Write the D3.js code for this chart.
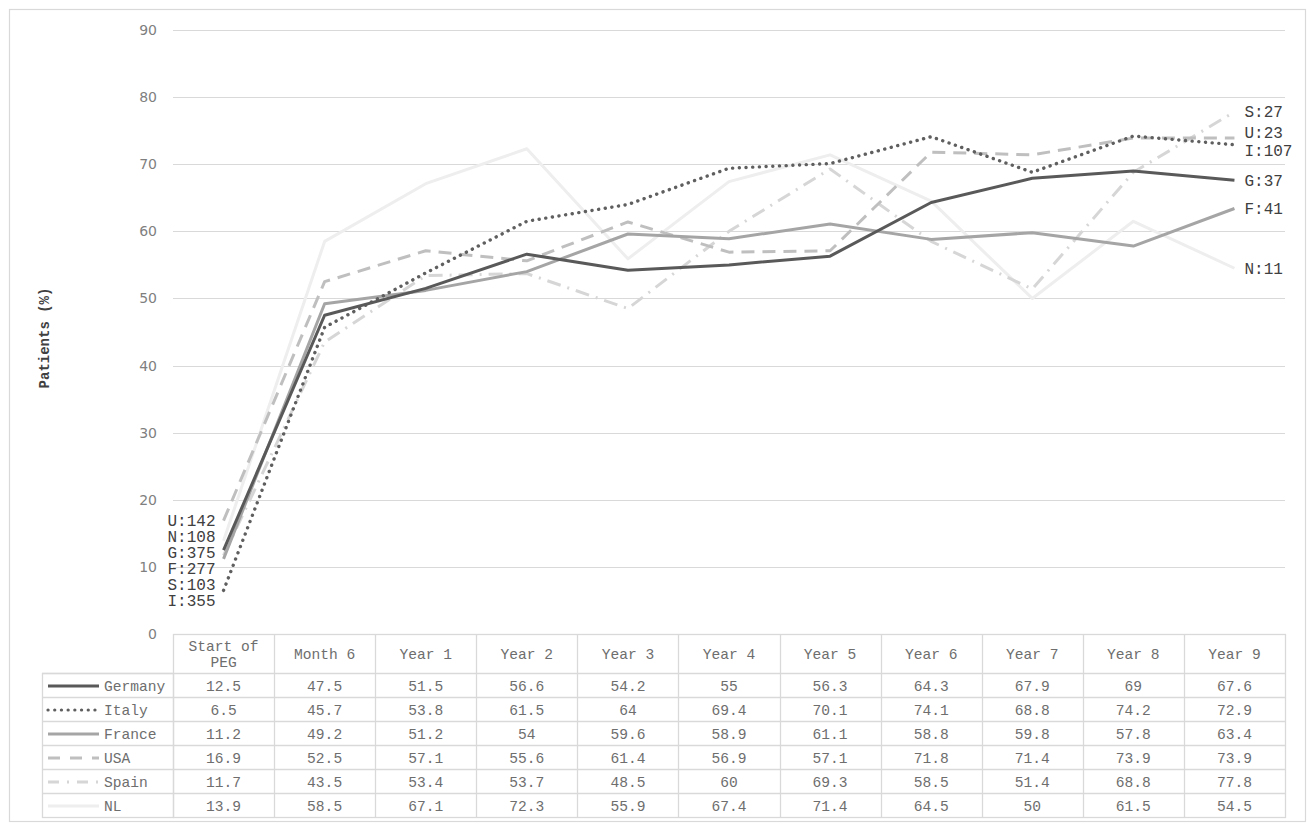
<!DOCTYPE html>
<html>
<head>
<meta charset="utf-8">
<script src="https://cdn.jsdelivr.net/npm/d3@7"></script>
<style>
  html, body { margin: 0; padding: 0; background: #ffffff; }
  svg { display: block; }
</style>
</head>
<body>
<svg id="chart" width="1307" height="824"></svg>
<script>
// Time points after start of PEG treatment
const categories = ["Start of PEG", "Month 6", "Year 1", "Year 2", "Year 3", "Year 4",
                    "Year 5", "Year 6", "Year 7", "Year 8", "Year 9"];

// Share of patients (%) per country
const germany = [12.5, 47.5, 51.5, 56.6, 54.2, 55, 56.3, 64.3, 67.9, 69, 67.6];
const italy   = [6.5, 45.7, 53.8, 61.5, 64, 69.4, 70.1, 74.1, 68.8, 74.2, 72.9];
const france  = [11.2, 49.2, 51.2, 54, 59.6, 58.9, 61.1, 58.8, 59.8, 57.8, 63.4];
const usa     = [16.9, 52.5, 57.1, 55.6, 61.4, 56.9, 57.1, 71.8, 71.4, 73.9, 73.9];
const spain   = [11.7, 43.5, 53.4, 53.7, 48.5, 60, 69.3, 58.5, 51.4, 68.8, 77.8];
const nl      = [13.9, 58.5, 67.1, 72.3, 55.9, 67.4, 71.4, 64.5, 50, 61.5, 54.5];

// Patient counts shown at the first and last time point
const seriesNames = ["Germany", "Italy", "France", "USA", "Spain", "NL"];
const seriesCodes = ["G", "I", "F", "U", "S", "N"];
const startCounts = [375, 355, 277, 142, 103, 108];
const endCounts   = [37, 107, 41, 23, 27, 11];
// Stacking order of the start labels, top to bottom
const startLabelOrder = ["USA", "NL", "Germany", "France", "Spain", "Italy"];

const yTicks = [0, 10, 20, 30, 40, 50, 60, 70, 80, 90];
const yTitle = "Patients (%)";

// Line styles per series
const styles = {
  Germany: { color: "#595959", dash: null, cap: "butt" },
  Italy:   { color: "#5f5f5f", dash: "0.1 6.6", cap: "round" },
  France:  { color: "#a5a5a5", dash: null, cap: "butt" },
  USA:     { color: "#bfbfbf", dash: "13 8", cap: "butt" },
  Spain:   { color: "#d6d6d6", dash: "14 7 2 7", cap: "butt" },
  NL:      { color: "#eeeeee", dash: null, cap: "butt" }
};

const seriesValues = [germany, italy, france, usa, spain, nl];
const series = seriesNames.map((name, i) => ({
  name, code: seriesCodes[i], values: seriesValues[i],
  start: startCounts[i], end: endCounts[i], style: styles[name]
}));

const svg = d3.select("#chart");
const mono = "'Liberation Mono', 'Courier New', monospace";
const gridColor = "#d9d9d9";

// Outer frame
svg.append("rect")
  .attr("x", 9.5).attr("y", 9.5).attr("width", 1296).attr("height", 812)
  .attr("fill", "#fff").attr("stroke", gridColor).attr("stroke-width", 1.2);

const plotLeft = 173, plotRight = 1285, plotTop = 30, plotBottom = 634;

const x = d3.scaleBand().domain(categories).range([plotLeft, plotRight]).paddingInner(0).paddingOuter(0);
const y = d3.scaleLinear().domain([0, 90]).range([plotBottom, plotTop]);
const cx = c => x(c) + x.bandwidth() / 2;

// Horizontal gridlines
svg.append("g").selectAll("line")
  .data(yTicks.filter(t => t > 0))
  .join("line")
  .attr("x1", plotLeft).attr("x2", plotRight)
  .attr("y1", d => Math.round(y(d)) + 0.5).attr("y2", d => Math.round(y(d)) + 0.5)
  .attr("stroke", gridColor).attr("stroke-width", 1);

// Y axis labels
const yAxis = d3.axisLeft(y).tickValues(yTicks).tickSize(0).tickPadding(16).tickFormat(d3.format("d"));
const gy = svg.append("g").attr("transform", `translate(${plotLeft},0)`).call(yAxis);
gy.select(".domain").remove();
gy.selectAll("text")
  .attr("fill", "#7f7f7f")
  .style("font-family", "'DejaVu Sans', sans-serif")
  .style("font-size", "14px");

// Y axis title
svg.append("text")
  .attr("transform", `translate(49, ${(plotTop + plotBottom) / 2 + 6}) rotate(-90)`)
  .attr("text-anchor", "middle")
  .attr("fill", "#404040")
  .style("font-family", mono)
  .style("font-size", "14px")
  .style("font-weight", "bold")
  .text(yTitle);

// Series lines
const line = d3.line().x((d, i) => cx(categories[i])).y(d => y(d));
const drawOrder = ["NL", "Spain", "USA", "France", "Italy", "Germany"];
svg.append("g").selectAll("path")
  .data(drawOrder.map(n => series.find(s => s.name === n)))
  .join("path")
  .attr("d", d => line(d.values))
  .attr("fill", "none")
  .attr("stroke", d => d.style.color)
  .attr("stroke-width", d => d.name === "Italy" ? 3.4 : 3)
  .attr("stroke-dasharray", d => d.style.dash)
  .attr("stroke-linecap", d => d.style.cap)
  .attr("stroke-linejoin", "round");

// Patient count labels at the first time point, stacked downward
const labelStyle = sel => sel
  .attr("fill", "#404040")
  .style("font-family", mono)
  .style("font-size", "16px");

const firstCat = categories[0];
const topStart = d3.max(series, s => s.values[0]);
svg.append("g").selectAll("text")
  .data(startLabelOrder.map(n => series.find(s => s.name === n)))
  .join("text")
  .attr("x", cx(firstCat) - 8)
  .attr("y", (d, i) => y(topStart) + i * 16)
  .attr("dy", "0.35em")
  .attr("text-anchor", "end")
  .call(labelStyle)
  .text(d => `${d.code}:${d.start}`);

// Patient count labels at the last time point, spread apart to avoid overlap
const lastCat = categories[categories.length - 1];
const endLabels = series.map(s => ({ s, pos: y(s.values[s.values.length - 1]) }))
  .sort((a, b) => a.pos - b.pos);
const minGap = 18;
for (let iter = 0; iter < 50; iter++) {
  for (let i = 1; i < endLabels.length; i++) {
    const gap = endLabels[i].pos - endLabels[i - 1].pos;
    if (gap < minGap) {
      const shift = (minGap - gap) / 2;
      endLabels[i - 1].pos -= shift;
      endLabels[i].pos += shift;
    }
  }
}
svg.append("g").selectAll("text")
  .data(endLabels)
  .join("text")
  .attr("x", cx(lastCat) + 10)
  .attr("y", d => d.pos)
  .attr("dy", "0.35em")
  .attr("text-anchor", "start")
  .call(labelStyle)
  .text(d => `${d.s.code}:${d.s.end}`);

// Data table beneath the plot
const headerTop = plotBottom, headerH = 39, rowH = 24;
const legendLeft = 42;
const tableBottom = headerTop + headerH + rowH * series.length;
const tbl = svg.append("g");
const cellText = "#6e6e6e";
const tableFont = "14.6px";

// Table outlines
tbl.append("rect")
  .attr("x", plotLeft + 0.5).attr("y", headerTop + 0.5)
  .attr("width", plotRight - plotLeft).attr("height", tableBottom - headerTop)
  .attr("fill", "none").attr("stroke", gridColor).attr("stroke-width", 1.3);
tbl.append("rect")
  .attr("x", legendLeft + 0.5).attr("y", headerTop + headerH + 0.5)
  .attr("width", plotLeft - legendLeft).attr("height", rowH * series.length)
  .attr("fill", "none").attr("stroke", gridColor).attr("stroke-width", 1.3);

// Column dividers
tbl.selectAll("line.col")
  .data(categories.slice(1))
  .join("line")
  .attr("class", "col")
  .attr("x1", d => Math.round(x(d)) + 0.5).attr("x2", d => Math.round(x(d)) + 0.5)
  .attr("y1", headerTop).attr("y2", tableBottom)
  .attr("stroke", gridColor).attr("stroke-width", 1.3);

// Row dividers
tbl.selectAll("line.row")
  .data(d3.range(series.length))
  .join("line")
  .attr("class", "row")
  .attr("x1", legendLeft).attr("x2", plotRight)
  .attr("y1", i => headerTop + headerH + i * rowH + 0.5)
  .attr("y2", i => headerTop + headerH + i * rowH + 0.5)
  .attr("stroke", gridColor).attr("stroke-width", 1.3);

// Header labels, wrapped when too wide for the column
const headers = tbl.selectAll("text.hdr")
  .data(categories)
  .join("text")
  .attr("class", "hdr")
  .attr("text-anchor", "middle")
  .attr("fill", cellText)
  .style("font-family", mono)
  .style("font-size", tableFont);
headers.each(function(d) {
  const t = d3.select(this);
  const words = d.split(" ");
  const lines = [];
  let cur = "";
  const maxChars = 9;
  words.forEach(w => {
    const next = cur ? cur + " " + w : w;
    if (next.length > maxChars && cur) { lines.push(cur); cur = w; }
    else cur = next;
  });
  lines.push(cur);
  const mid = headerTop + headerH / 2;
  lines.forEach((ln, k) => {
    t.append("tspan")
      .attr("x", cx(d))
      .attr("y", mid + (k - (lines.length - 1) / 2) * 16)
      .attr("dy", "0.35em")
      .text(ln);
  });
});

// Table rows: legend swatch, name, values
series.forEach((s, r) => {
  const rowMid = headerTop + headerH + r * rowH + rowH / 2 + 1;
  tbl.append("line")
    .attr("x1", 48).attr("x2", 99)
    .attr("y1", rowMid).attr("y2", rowMid)
    .attr("stroke", s.style.color)
    .attr("stroke-width", s.name === "Italy" ? 3.2 : 3)
    .attr("stroke-dasharray", s.name === "USA" ? "12 10" : s.name === "Spain" ? "11 8 2 8" : s.style.dash)
    .attr("stroke-linecap", s.style.cap);
  tbl.append("text")
    .attr("x", 104).attr("y", rowMid).attr("dy", "0.35em")
    .attr("fill", cellText)
    .style("font-family", mono).style("font-size", tableFont)
    .text(s.name);
  tbl.append("g").selectAll("text")
    .data(s.values)
    .join("text")
    .attr("x", (d, i) => cx(categories[i]))
    .attr("y", rowMid).attr("dy", "0.35em")
    .attr("text-anchor", "middle")
    .attr("fill", cellText)
    .style("font-family", mono).style("font-size", tableFont)
    .text(d => String(d));
});
</script>
</body>
</html>
